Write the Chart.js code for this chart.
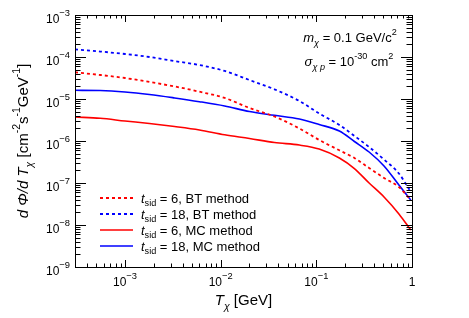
<!DOCTYPE html>
<html>
<head>
<meta charset="utf-8">
<script src="https://cdn.jsdelivr.net/npm/chart.js@4"></script>
<style>
  body { margin: 0; background: #fff; }
  #wrap { width: 469px; height: 318px; }
</style>
</head>
<body>
<div id="wrap"><canvas id="c" width="469" height="318"></canvas></div>
<script>
// kinetic energy T_chi [GeV]
const energies = [3e-4, 5.5e-4, 1e-3, 1.8e-3, 3.3e-3, 6e-3, 1.1e-2, 2e-2, 3.65e-2, 6.65e-2, 0.107, 0.174, 0.25, 0.356, 0.51, 0.73, 0.97];
// dPhi/dT for each case
const fluxBT6  = [4.33e-5, 3.73e-5, 3.16e-5, 2.54e-5, 1.99e-5, 1.49e-5, 1.06e-5, 6.1e-6, 3.83e-6, 1.99e-6, 1.06e-6, 6.0e-7, 3.94e-7, 2.28e-7, 1.32e-7, 8.0e-8, 3.94e-8];
const fluxBT18 = [1.52e-4, 1.35e-4, 1.18e-4, 1.0e-4, 8.0e-5, 6.45e-5, 4.65e-5, 2.83e-5, 1.70e-5, 8.96e-6, 4.52e-6, 2.40e-6, 1.32e-6, 7.2e-7, 3.63e-7, 1.68e-7, 6.2e-8];
const fluxMC6  = [3.73e-6, 3.47e-6, 2.99e-6, 2.61e-6, 2.21e-6, 1.83e-6, 1.41e-6, 1.15e-6, 9.2e-7, 8.0e-7, 6.45e-7, 3.94e-7, 2.21e-7, 1.0e-7, 4.64e-8, 1.83e-8, 7.6e-9];
const fluxMC18 = [1.61e-5, 1.59e-5, 1.47e-5, 1.28e-5, 1.06e-5, 8.63e-6, 6.81e-6, 5.04e-6, 4.09e-6, 3.34e-6, 2.47e-6, 1.73e-6, 9.73e-7, 5.47e-7, 2.54e-7, 8.95e-8, 3.94e-8];

const seriesValues = [fluxBT6, fluxBT18, fluxMC6, fluxMC18];
const seriesNames = [' = 6, BT method', ' = 18, BT method', ' = 6, MC method', ' = 18, MC method'];
const seriesColors = ['#ff0000', '#0000ff', '#ff0000', '#0000ff'];
const seriesDashed = [true, true, false, false];

const xTickValues = [1e-3, 1e-2, 1e-1, 1];
const xTickLabels = ['10^−3', '10^−2', '10^−1', '1'];
const yTickValues = [1e-9, 1e-8, 1e-7, 1e-6, 1e-5, 1e-4, 1e-3];
const yTickLabels = ['10^−9', '10^−8', '10^−7', '10^−6', '10^−5', '10^−4', '10^−3'];

const FONT = '"Liberation Sans", Arial, sans-serif';

// draw a line of text made of pieces: n = normal, i = italic, sup, sub, isub
function rich(ctx, parts, x, y, size, align, sc = 0.7, up = 0.55, dn = 0.3) {
    const fontOf = (k) => {
        const small = k === 'sup' || k === 'sub' || k === 'isub';
        const it = k === 'i' || k === 'isub';
        return `${it ? 'italic ' : ''}${small ? size * sc : size}px ${FONT}`;
    };
    let total = 0;
    const widths = parts.map(([t, k]) => {
        ctx.font = fontOf(k);
        const w = ctx.measureText(t).width;
        total += w;
        return w;
    });
    let cx = align === 'center' ? x - total / 2 : align === 'right' ? x - total : x;
    ctx.textAlign = 'left';
    ctx.textBaseline = 'alphabetic';
    parts.forEach(([t, k], i) => {
        ctx.font = fontOf(k);
        const dy = k === 'sup' ? -size * up : (k === 'sub' || k === 'isub') ? size * dn : 0;
        ctx.fillText(t, cx, y + dy);
        cx += widths[i];
    });
}

const splitPow = (s) => {
    const p = s.split('^');
    return p.length > 1 ? [[p[0], 'n'], [p[1], 'sup']] : [[p[0], 'n']];
};

// ROOT style frame: ticks inside, labels, titles, legend, text
const decorations = {
    id: 'decorations',
    afterDraw(chart) {
        const ctx = chart.ctx;
        const xs = chart.scales.x;
        const ys = chart.scales.y;
        const a = chart.chartArea;
        ctx.save();
        ctx.strokeStyle = '#000';
        ctx.fillStyle = '#000';
        ctx.lineWidth = 1;
        ctx.setLineDash([]);
        ctx.strokeRect(a.left + 0.5, a.top + 0.5, a.right - a.left, a.bottom - a.top);

        ctx.beginPath();
        for (let d = -4; d <= 0; d++) {
            for (let m = 1; m <= 9; m++) {
                const v = m * Math.pow(10, d);
                if (v < xs.min * 0.999 || v > xs.max * 1.001) continue;
                const px = Math.round(xs.getPixelForValue(v)) + 0.5;
                const len = m === 1 ? 7 : 3.5;
                ctx.moveTo(px, a.bottom); ctx.lineTo(px, a.bottom - len);
                ctx.moveTo(px, a.top); ctx.lineTo(px, a.top + len);
            }
        }
        for (let d = -9; d <= -3; d++) {
            for (let m = 1; m <= 9; m++) {
                const v = m * Math.pow(10, d);
                if (v < ys.min * 0.999 || v > ys.max * 1.001) continue;
                const py = Math.round(ys.getPixelForValue(v)) + 0.5;
                const len = m === 1 ? 11 : 5.5;
                ctx.moveTo(a.left, py); ctx.lineTo(a.left + len, py);
                ctx.moveTo(a.right, py); ctx.lineTo(a.right - len, py);
            }
        }
        ctx.stroke();

        xTickValues.forEach((v, i) => {
            rich(ctx, splitPow(xTickLabels[i]), xs.getPixelForValue(v), a.bottom + 19, 12, 'center', 0.78, 0.6);
        });
        yTickValues.forEach((v, i) => {
            rich(ctx, splitPow(yTickLabels[i]), a.left - 5, ys.getPixelForValue(v) + 8, 12, 'right', 0.78, 0.6);
        });

        // axis titles
        rich(ctx, [['T', 'i'], ['χ', 'isub'], [' [GeV]', 'n']], (a.left + a.right) / 2, 305, 15, 'center');
        ctx.save();
        ctx.translate(28, (a.top + a.bottom) / 2);
        ctx.rotate(-Math.PI / 2);
        rich(ctx, [['d ', 'i'], ['Φ', 'i'], ['/', 'i'], ['d ', 'i'], ['T', 'i'], ['χ', 'isub'],
                   [' [cm', 'n'], ['-2', 'sup'], ['s', 'n'], ['-1', 'sup'], ['GeV', 'n'], ['-1', 'sup'], [']', 'n']],
             0, 0, 15, 'center');
        ctx.restore();

        // model text
        rich(ctx, [['m', 'i'], ['χ', 'isub'], [' = 0.1 GeV/c', 'n'], ['2', 'sup']], 350, 42, 13, 'center');
        rich(ctx, [['σ', 'i'], ['χ p', 'isub'], [' = 10', 'n'], ['-30', 'sup'], [' cm', 'n'], ['2', 'sup']], 349, 66, 13, 'center');

        // legend
        const legendY = [198, 214, 230, 246];
        seriesNames.forEach((name, i) => {
            const y = legendY[i];
            ctx.beginPath();
            ctx.strokeStyle = seriesColors[i];
            ctx.lineWidth = seriesDashed[i] ? 1.8 : 1.6;
            ctx.setLineDash(seriesDashed[i] ? [3, 3] : []);
            ctx.moveTo(100, y);
            ctx.lineTo(133, y);
            ctx.stroke();
            ctx.setLineDash([]);
            rich(ctx, [['t', 'i'], ['sid', 'sub'], [name, 'n']], 141, y + 4.5, 13, 'left');
        });
        ctx.restore();
    }
};

const ctx = document.getElementById('c').getContext('2d');
new Chart(ctx, {
    type: 'line',
    data: {
        datasets: seriesValues.map((vals, i) => ({
            label: 't_sid' + seriesNames[i],
            data: energies.map((e, j) => ({ x: e, y: vals[j] })),
            borderColor: seriesColors[i],
            borderWidth: seriesDashed[i] ? 1.8 : 1.6,
            borderDash: seriesDashed[i] ? [3, 3] : [],
            pointRadius: 0,
            fill: false,
            cubicInterpolationMode: 'monotone',
        })),
    },
    options: {
        responsive: false,
        animation: false,
        devicePixelRatio: 1,
        layout: { padding: { left: 75, right: 57, top: 15, bottom: 51 } },
        scales: {
            x: { type: 'logarithmic', min: 3e-4, max: 1, display: false },
            y: { type: 'logarithmic', min: 1e-9, max: 1e-3, display: false },
        },
        plugins: {
            legend: { display: false },
            tooltip: { enabled: false },
        },
    },
    plugins: [decorations],
});
</script>
</body>
</html>
